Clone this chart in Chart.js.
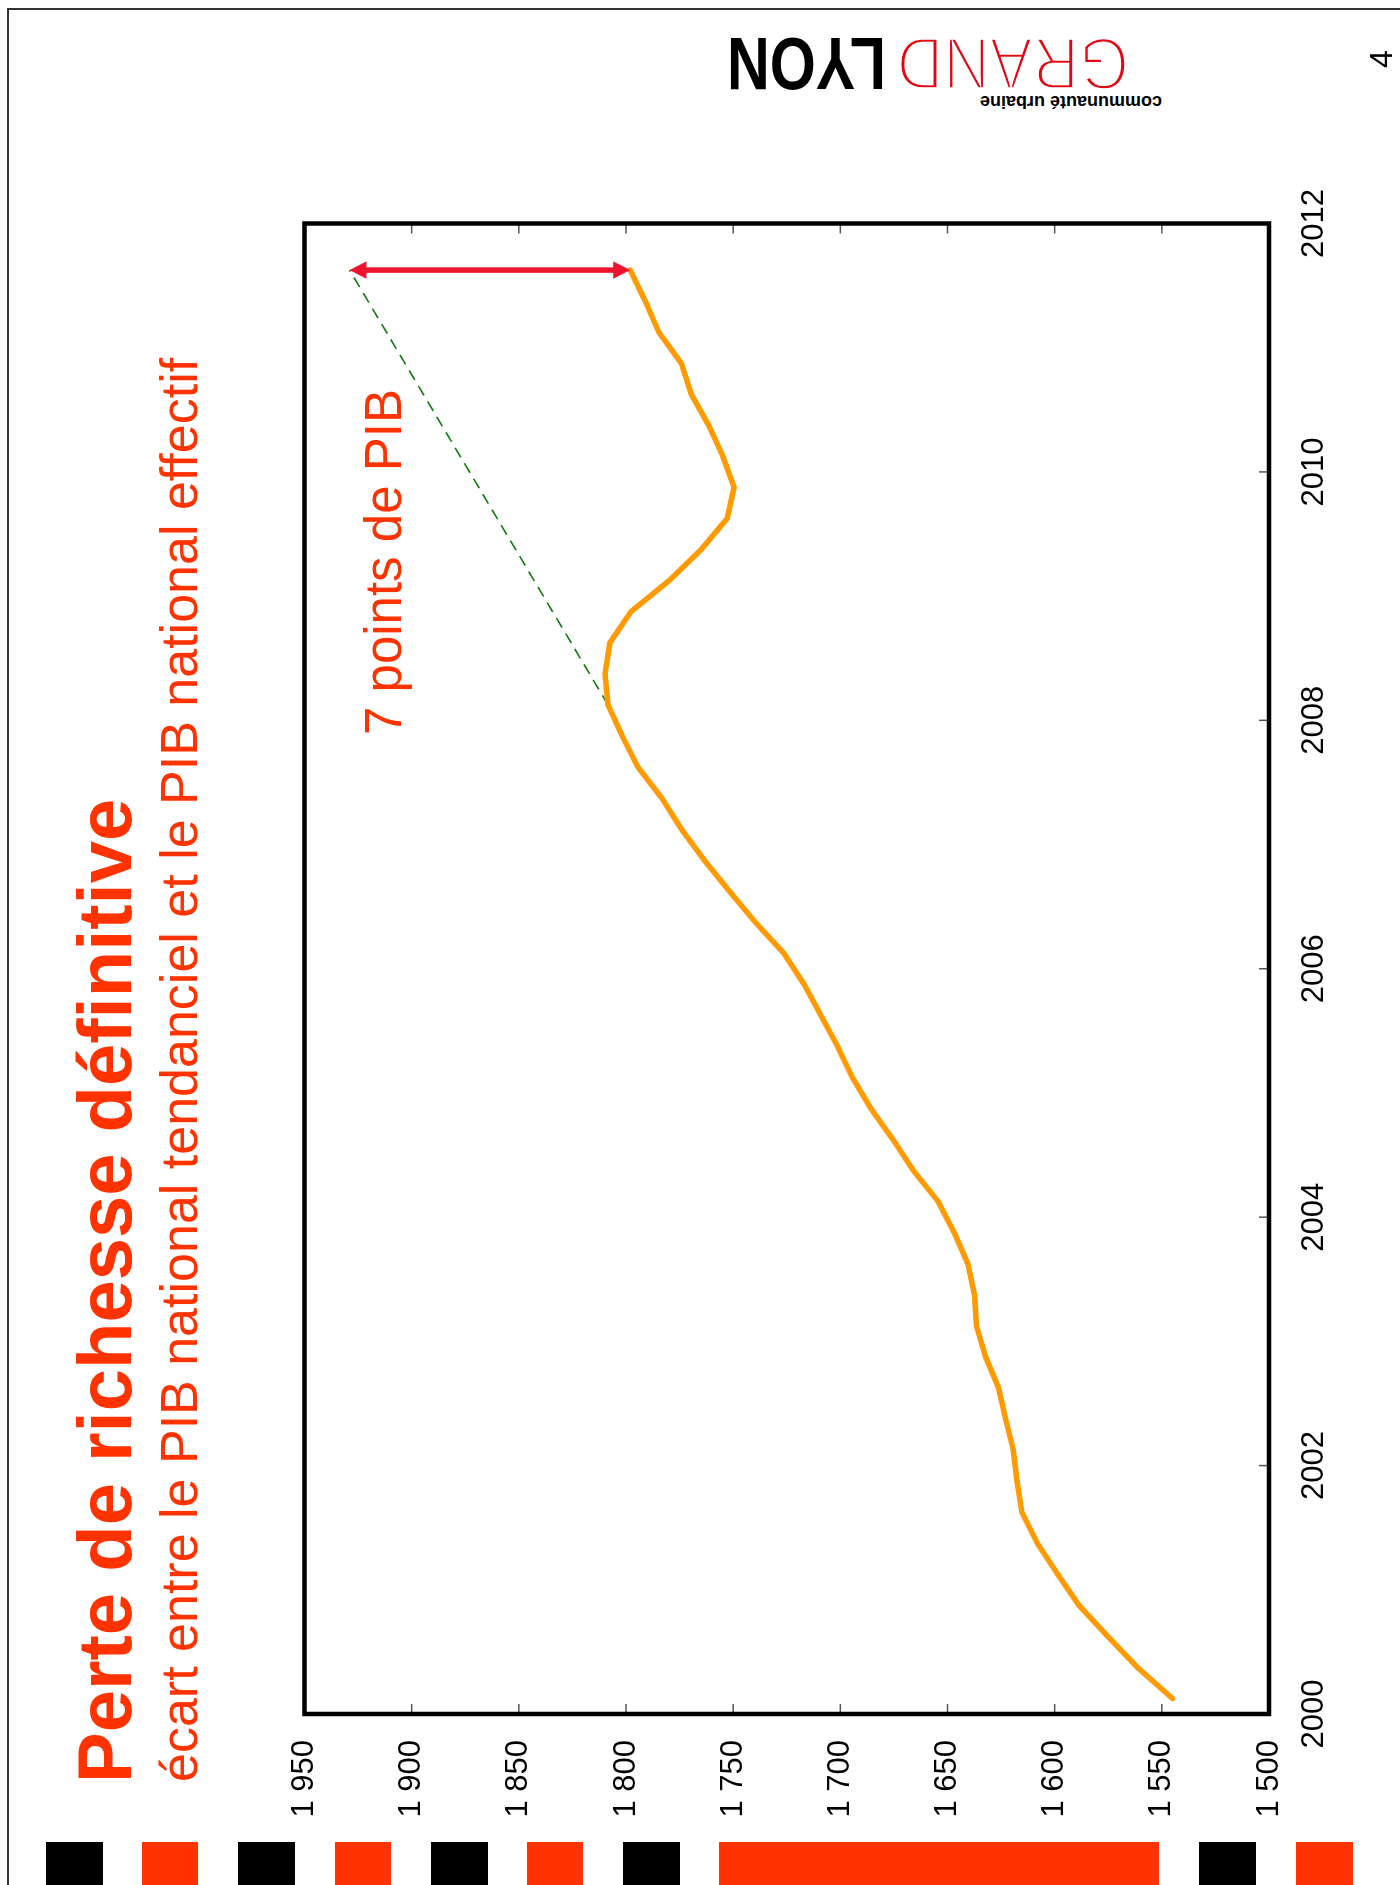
<!DOCTYPE html>
<html lang="fr">
<head>
<meta charset="utf-8">
<title>Perte de richesse définitive</title>
<script src="https://cdn.jsdelivr.net/npm/chart.js@4/dist/chart.umd.min.js"></script>
<style>
  html, body { margin: 0; padding: 0; background: #fff; width: 1400px; height: 1885px; overflow: hidden; }
  /* landscape slide, turned a quarter turn counter-clockwise onto the portrait page */
  #sheet { position: absolute; left: 0; top: 0; width: 1885px; height: 1400px;
           transform-origin: 0 0; transform: translateY(1885px) rotate(-90deg); }
  #chart { position: absolute; left: 0; top: 0; width: 1885px; height: 1400px; }
  .txt { position: absolute; white-space: nowrap; line-height: 1;
         font-family: "Liberation Sans", Arial, sans-serif; color: #ff3300; }
  #title { left: 102px; top: 67px; font-size: 76px; font-weight: bold; }
  #subtitle { left: 103px; top: 153px; font-size: 52px; }
  #note { left: 1150px; top: 358px; font-size: 51px; }
  #pageno { left: 1817px; top: 1365px; font-size: 32px; color: #000; }

  /* page frame */
  .rule { position: absolute; background: #333; }
  /* logo block, shown upside down */
  #logo { position: absolute; left: 720px; top: 37px; width: 442px; height: 71px; transform: rotate(180deg); }
  #logo span { position: absolute; white-space: nowrap; line-height: 1; font-family: "Liberation Sans", Arial, sans-serif; transform-origin: 0 0; }
  #logo .cu { left: 0; top: -3px; font-size: 18px; font-weight: bold; color: #000; }
  #logo .grand { left: 33px; top: 7px; font-size: 75px; color: #e30613; transform: scaleX(0.857);
                 -webkit-text-stroke: 3.5px #fff; paint-order: normal; }
  #logo .lyon { left: 276px; top: 7px; font-size: 75px; font-weight: bold; color: #000; transform: scaleX(0.79); }
  .blk { position: absolute; top: 1842px; height: 43px; }
</style>
</head>
<body>
<div class="rule" style="left:7px; top:8px; width:1393px; height:2px;"></div>
<div class="rule" style="left:7px; top:8px; width:2px; height:1877px;"></div>

<div id="logo">
  <span class="cu">communauté urbaine</span>
  <span class="grand">GRAND</span>
  <span class="lyon">LYON</span>
</div>

<div class="blk" style="left:46px; width:57px; background:#000"></div>
<div class="blk" style="left:142px; width:56px; background:#ff3300"></div>
<div class="blk" style="left:238px; width:57px; background:#000"></div>
<div class="blk" style="left:335px; width:56px; background:#ff3300"></div>
<div class="blk" style="left:431px; width:57px; background:#000"></div>
<div class="blk" style="left:527px; width:56px; background:#ff3300"></div>
<div class="blk" style="left:623px; width:57px; background:#000"></div>
<div class="blk" style="left:719px; width:440px; background:#ff3300"></div>
<div class="blk" style="left:1199px; width:57px; background:#000"></div>
<div class="blk" style="left:1296px; width:57px; background:#ff3300"></div>

<div id="sheet">
  <canvas id="chart" width="1885" height="1400"></canvas>
  <div class="txt" id="title">Perte de richesse définitive</div>
  <div class="txt" id="subtitle">écart entre le PIB national tendanciel et le PIB national effectif</div>
  <div class="txt" id="note">7 points de PIB</div>
  <div class="txt" id="pageno">4</div>
</div>

<script>
// Quarterly national GDP (effective), index level
const quarters = [
  '2000 T1', '2000 T2', '2000 T3', '2000 T4',
  '2001 T1', '2001 T2', '2001 T3', '2001 T4',
  '2002 T1', '2002 T2', '2002 T3', '2002 T4',
  '2003 T1', '2003 T2', '2003 T3', '2003 T4',
  '2004 T1', '2004 T2', '2004 T3', '2004 T4',
  '2005 T1', '2005 T2', '2005 T3', '2005 T4',
  '2006 T1', '2006 T2', '2006 T3', '2006 T4',
  '2007 T1', '2007 T2', '2007 T3', '2007 T4',
  '2008 T1', '2008 T2', '2008 T3', '2008 T4',
  '2009 T1', '2009 T2', '2009 T3', '2009 T4',
  '2010 T1', '2010 T2', '2010 T3', '2010 T4',
  '2011 T1', '2011 T2', '2011 T3'
];
const pibEffectif = [
  1545.0, 1561.4, 1575.2, 1588.7,
  1598.6, 1608.1, 1615.3, 1617.6,
  1619.3, 1622.9, 1626.2, 1632.2,
  1636.5, 1637.4, 1640.5, 1646.9,
  1654.3, 1665.9, 1675.4, 1685.8,
  1694.4, 1701.3, 1709.1, 1716.9,
  1726.4, 1739.7, 1751.8, 1763.5,
  1774.2, 1783.3, 1794.5, 1801.8,
  1808.4, 1809.8, 1807.5, 1797.7,
  1779.9, 1764.9, 1752.8, 1749.6,
  1754.8, 1761.4, 1769.5, 1774.2,
  1784.7, 1791.0, 1798.0
];

// Pre-crisis trend of national GDP
const trendQuarters = ['2008 T1', '2011 T3'];
const pibTendanciel = [1808.4, 1929.0];

// Gap between trend and effective GDP at the last quarter
const gapQuarters = ['2011 T3', '2011 T3'];
const gapValues = [1929.0, 1798.0];

// Axis ticks
const yearTicks = [2000, 2002, 2004, 2006, 2008, 2010, 2012];
const valueTicks = [1500, 1550, 1600, 1650, 1700, 1750, 1800, 1850, 1900, 1950];

// a quarter sits at the middle of its span on the time axis
function quarterPos(label) {
  const [year, q] = label.split(' T');
  return Number(year) + (Number(q) - 0.5) / 4;
}
const toPoints = (labels, values) => labels.map((l, i) => ({ x: quarterPos(l), y: values[i] }));

const fmtThousands = v => {
  const s = String(Math.round(v));
  return s.length > 3 ? s.slice(0, s.length - 3) + ' ' + s.slice(-3) : s;
};

const FONT = '"Liberation Sans", Arial, sans-serif';

// inward tick marks, the frame and the double-headed arrow
const frame = {
  id: 'frame',
  afterDatasetsDraw(chart) {
    const { ctx, chartArea: a, scales: { x, y } } = chart;
    ctx.save();
    ctx.strokeStyle = '#555';
    ctx.lineWidth = 1.5;
    const seg = (x0, y0, x1, y1) => { ctx.beginPath(); ctx.moveTo(x0, y0); ctx.lineTo(x1, y1); ctx.stroke(); };
    y.ticks.forEach(t => {
      if (t.value <= y.min || t.value >= y.max) return;
      const py = y.getPixelForValue(t.value);
      seg(a.left, py, a.left + 10, py);
      seg(a.right, py, a.right - 10, py);
    });
    x.ticks.forEach(t => {
      if (t.value <= x.min || t.value >= x.max) return;
      const px = x.getPixelForValue(t.value);
      seg(px, a.bottom, px, a.bottom - 10);
    });

    // double arrow between trend and effective GDP
    const pts = chart.getDatasetMeta(2).data;
    if (pts.length === 2) {
      const p0 = pts[0], p1 = pts[1];
      const dx = p1.x - p0.x, dy = p1.y - p0.y;
      const len = Math.hypot(dx, dy) || 1;
      const ux = dx / len, uy = dy / len;
      const head = 17, half = 8.7;
      ctx.strokeStyle = '#ee1430';
      ctx.fillStyle = '#ee1430';
      ctx.lineWidth = 5.5;
      seg(p0.x + ux * (head - 1), p0.y + uy * (head - 1), p1.x - ux * (head - 1), p1.y - uy * (head - 1));
      const tip = (p, sx, sy) => {
        const bx = p.x + sx * head, by = p.y + sy * head;
        ctx.beginPath();
        ctx.moveTo(p.x, p.y);
        ctx.lineTo(bx - sy * half, by + sx * half);
        ctx.lineTo(bx + sy * half, by - sx * half);
        ctx.closePath();
        ctx.fill();
      };
      tip(p0, ux, uy);
      tip(p1, -ux, -uy);
    }

    ctx.strokeStyle = '#000';
    ctx.lineWidth = 4.5;
    ctx.strokeRect(a.left, a.top, a.width, a.height);
    ctx.restore();
  }
};

new Chart(document.getElementById('chart'), {
  type: 'line',
  data: {
    datasets: [
      {
        label: 'PIB national effectif',
        data: toPoints(quarters, pibEffectif),
        borderColor: '#ff9a00',
        borderWidth: 5.5,
        borderCapStyle: 'round',
        borderJoinStyle: 'miter',
        pointRadius: 0,
        tension: 0,
        order: 1
      },
      {
        label: 'PIB national tendanciel',
        data: toPoints(trendQuarters, pibTendanciel),
        borderColor: '#0a7d0a',
        borderWidth: 1.6,
        borderDash: [11, 7],
        pointRadius: 0,
        tension: 0,
        order: 2
      },
      {
        label: 'écart',
        data: toPoints(gapQuarters, gapValues),
        showLine: false,
        pointRadius: 0,
        order: 0
      }
    ]
  },
  options: {
    responsive: false,
    animation: false,
    devicePixelRatio: 1,
    layout: { padding: { left: 0, top: 304.5, right: 223.5, bottom: 31 } },
    plugins: { legend: { display: false }, tooltip: { enabled: false }, title: { display: false } },
    scales: {
      x: {
        type: 'linear',
        min: 2000,
        max: 2012,
        afterBuildTicks: s => { s.ticks = yearTicks.map(v => ({ value: v })); },
        afterFit: s => { s.height = 100; },
        grid: { display: false, drawTicks: false },
        border: { display: false },
        ticks: {
          padding: 27,
          color: '#000',
          font: { family: FONT, size: 31 },
          maxRotation: 0,
          autoSkip: false,
          callback: v => String(v)
        }
      },
      y: {
        type: 'linear',
        min: 1500,
        max: 1950,
        afterBuildTicks: s => { s.ticks = valueTicks.map(v => ({ value: v })); },
        afterFit: s => { s.width = 171; },
        grid: { display: false, drawTicks: false },
        border: { display: false },
        ticks: {
          padding: 26,
          color: '#000',
          font: { family: FONT, size: 31 },
          autoSkip: false,
          callback: v => fmtThousands(v)
        }
      }
    }
  },
  plugins: [frame]
});
</script>
</body>
</html>
